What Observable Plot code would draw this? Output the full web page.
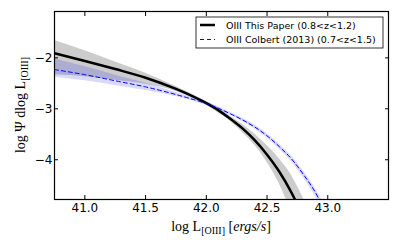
<!DOCTYPE html>
<html>
<head>
<meta charset="utf-8">
<script src="https://cdn.jsdelivr.net/npm/d3@7"></script>
<script src="https://cdn.jsdelivr.net/npm/@observablehq/plot@0.6"></script>
<style>
  html, body { margin: 0; padding: 0; background: #fff; }
  #chart { width: 399px; height: 249px; }
</style>
</head>
<body>
<div id="chart"></div>
<script>
// This paper (0.8<z<1.2)
const paperX  = [40.75, 41.0, 41.25, 41.5, 41.75, 42.0, 42.1, 42.2, 42.3, 42.4, 42.5, 42.6, 42.7, 42.75, 42.8, 42.85];
const paperY  = [-1.91, -2.06, -2.22, -2.39, -2.61, -2.89, -3.03, -3.20, -3.39, -3.62, -3.90, -4.23, -4.64, -4.88, -5.14, -5.43];
const paperHi = [-1.66, -1.86, -2.08, -2.30, -2.56, -2.85, -2.98, -3.15, -3.31, -3.50, -3.72, -3.98, -4.30, -4.52, -4.76, -5.02];
const paperLo = [-2.33, -2.37, -2.44, -2.52, -2.66, -2.93, -3.08, -3.25, -3.47, -3.72, -4.05, -4.47, -5.02, -5.30, -5.60, -5.90];

// Colbert (2013) (0.7<z<1.5)
const colbX  = [40.75, 41.0, 41.25, 41.5, 41.75, 42.0, 42.1, 42.2, 42.3, 42.4, 42.5, 42.6, 42.7, 42.8, 42.9, 42.95, 43.0];
const colbY  = [-2.23, -2.33, -2.45, -2.57, -2.72, -2.90, -2.99, -3.10, -3.22, -3.36, -3.53, -3.74, -3.98, -4.29, -4.65, -4.87, -5.10];
const colbHi = [-2.02, -2.17, -2.34, -2.50, -2.68, -2.87, -2.96, -3.07, -3.185, -3.32, -3.485, -3.69, -3.92, -4.22, -4.57, -4.78, -5.00];
const colbLo = [-2.38, -2.45, -2.54, -2.64, -2.76, -2.93, -3.02, -3.13, -3.255, -3.40, -3.575, -3.79, -4.04, -4.36, -4.73, -4.96, -5.20];

const xTicks = [41.0, 41.5, 42.0, 42.5, 43.0];
const yTicks = [-2, -3, -4];
const legendLabels = ["OIII This Paper (0.8<z<1.2)", "OIII Colbert (2013) (0.7<z<1.5)"];

const paper = paperX.map((x, i) => ({x, y: paperY[i], hi: paperHi[i], lo: paperLo[i]}));
const colb = colbX.map((x, i) => ({x, y: colbY[i], hi: colbHi[i], lo: colbLo[i]}));

const minus = v => (v < 0 ? "\u2212" + Math.abs(v) : String(v));

const W = 399, H = 249;
const mL = 54, mR = 11, mT = 11, mB = 50;

const plot = Plot.plot({
  width: W, height: H,
  marginLeft: mL, marginRight: mR, marginTop: mT, marginBottom: mB,
  style: {fontFamily: "DejaVu Sans", fontSize: "12px", background: "white", color: "black"},
  x: {domain: [40.75, 43.5]},
  y: {domain: [-4.78, -1.09]},
  marks: [
    Plot.areaY(paper, {x: "x", y1: "lo", y2: "hi", fill: "black", fillOpacity: 0.2, clip: true, curve: "monotone-x"}),
    Plot.areaY(colb, {x: "x", y1: "lo", y2: "hi", fill: "blue", fillOpacity: 0.15, clip: true, curve: "monotone-x"}),
    Plot.line(paper, {x: "x", y: "y", stroke: "black", strokeWidth: 2.5, clip: true, curve: "monotone-x"}),
    Plot.line(colb, {x: "x", y: "y", stroke: "blue", strokeWidth: 1, strokeDasharray: "4,3", clip: true, curve: "monotone-x"}),
    Plot.axisX({ticks: xTicks, tickFormat: d => d.toFixed(1), tickSize: -4, tickPadding: 8, label: null}),
    Plot.axisX({anchor: "top", ticks: xTicks, tickFormat: () => "", tickSize: -4, label: null}),
    Plot.axisY({ticks: yTicks, tickFormat: minus, tickSize: -4, tickPadding: 6, label: null}),
    Plot.axisY({anchor: "right", ticks: yTicks, tickFormat: () => "", tickSize: -4, label: null}),
    Plot.frame({stroke: "black", strokeWidth: 1.2})
  ]
});

document.getElementById("chart").appendChild(plot);

const svg = d3.select(plot);
const serif = "Liberation Serif";

// x label
const xl = svg.append("text")
  .attr("x", 221).attr("y", 231)
  .attr("text-anchor", "middle")
  .attr("font-family", serif).attr("font-size", 14).attr("fill", "black");
xl.append("tspan").text("log L");
xl.append("tspan").attr("font-size", 10).attr("dy", 3).text("[OIII]");
xl.append("tspan").attr("dy", -3).text(" [");
xl.append("tspan").attr("font-style", "italic").text("ergs/s");
xl.append("tspan").text("]");

// y label
const yl = svg.append("text")
  .attr("transform", "translate(25,105) rotate(-90)")
  .attr("text-anchor", "middle")
  .attr("font-family", serif).attr("font-size", 14).attr("fill", "black");
yl.append("tspan").text("log \u03A8 dlog L");
yl.append("tspan").attr("font-size", 10).attr("dy", 3).text("[OIII]");

// legend
const lg = svg.append("g");
lg.append("rect").attr("x", 196).attr("y", 17).attr("width", 187).attr("height", 31)
  .attr("fill", "white").attr("stroke", "black").attr("stroke-width", 0.8);
lg.append("line").attr("x1", 200).attr("x2", 215).attr("y1", 25).attr("y2", 25)
  .attr("stroke", "black").attr("stroke-width", 2.5);
lg.append("line").attr("x1", 200).attr("x2", 215).attr("y1", 39.5).attr("y2", 39.5)
  .attr("stroke", "blue").attr("stroke-width", 1).attr("stroke-dasharray", "4,3");
legendLabels.forEach((t, i) => {
  lg.append("text").attr("x", 226).attr("y", 28.5 + i * 14.8)
    .attr("text-anchor", "start")
    .attr("font-family", "DejaVu Sans").attr("font-size", 9.5).attr("fill", "black").text(t);
});
</script>
</body>
</html>
